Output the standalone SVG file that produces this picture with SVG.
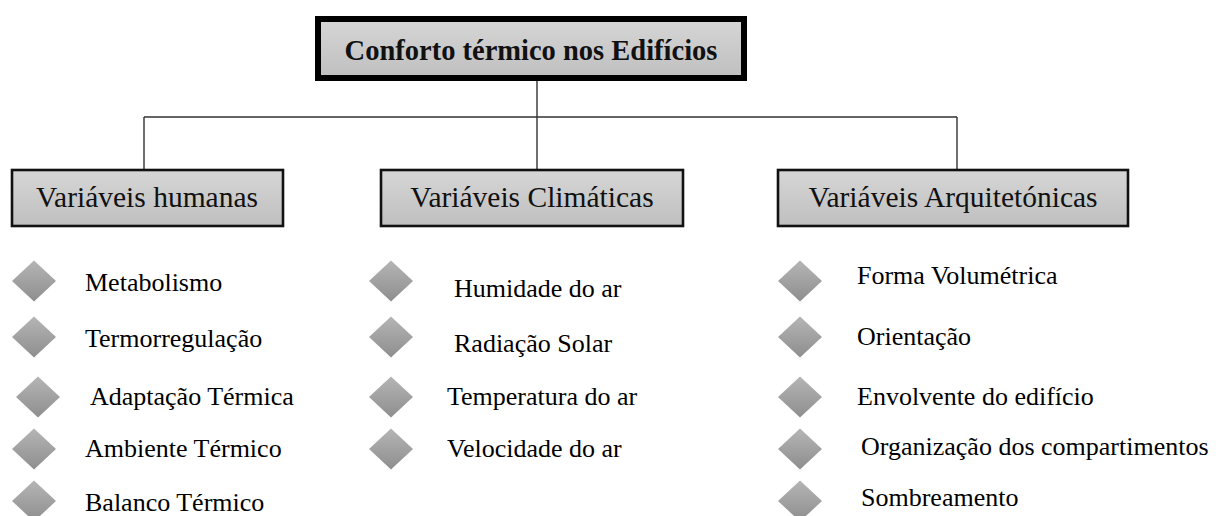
<svg xmlns="http://www.w3.org/2000/svg" width="1218" height="516" viewBox="0 0 1218 516">
<defs>
<linearGradient id="boxg" x1="0" y1="0" x2="0" y2="1">
<stop offset="0" stop-color="#d6d6d6"/>
<stop offset="1" stop-color="#bfbfbf"/>
</linearGradient>
<linearGradient id="dg" x1="0" y1="0" x2="0" y2="1">
<stop offset="0" stop-color="#b5b5b5"/>
<stop offset="1" stop-color="#8e8e8e"/>
</linearGradient>
<path id="dia" d="M0,-20.5 L22,0 L0,20.5 L-22,0 Z" fill="url(#dg)"/>
</defs>
<style>
.title{font-family:"Liberation Serif","Times New Roman",serif;font-weight:bold;font-size:28.5px;fill:#111;text-anchor:middle}
.hdr{font-family:"Liberation Serif","Times New Roman",serif;font-size:29.5px;fill:#111;text-anchor:middle}
.item{font-family:"Liberation Serif","Times New Roman",serif;font-size:26px;fill:#000}
.hbox{fill:url(#boxg);stroke:#111;stroke-width:2.6}
.conn{stroke:#333;stroke-width:1.4;fill:none}
</style>
<rect width="1218" height="516" fill="#fff"/>
<g id="connectors">
<path class="conn" d="M537,81 V117 M144,117 H957 M144,117 V169 M537,117 V169 M957,117 V169"/>
</g>
<g id="title">
<rect x="318" y="19" width="426" height="59" fill="url(#boxg)" stroke="#000" stroke-width="6"/>
<text class="title" x="531" y="60">Conforto térmico nos Edifícios</text>
</g>
<g id="hdr-humanas">
<rect class="hbox" x="12" y="170" width="271" height="56"/>
<text class="hdr" x="147" y="207">Variáveis humanas</text>
</g>
<g id="hdr-climaticas">
<rect class="hbox" x="381" y="170" width="302" height="56"/>
<text class="hdr" x="532" y="207">Variáveis Climáticas</text>
</g>
<g id="hdr-arquitetonicas">
<rect class="hbox" x="778" y="170" width="350" height="56"/>
<text class="hdr" x="953" y="207">Variáveis Arquitetónicas</text>
</g>
<g id="items-humanas">
<use href="#dia" x="34" y="281"/><text class="item" x="85" y="291">Metabolismo</text>
<use href="#dia" x="34" y="337"/><text class="item" x="85" y="347">Termorregulação</text>
<use href="#dia" x="38" y="397"/><text class="item" x="90" y="405">Adaptação Térmica</text>
<use href="#dia" x="34" y="449"/><text class="item" x="85" y="457">Ambiente Térmico</text>
<use href="#dia" x="34" y="501"/><text class="item" x="85" y="511">Balanco Térmico</text>
</g>
<g id="items-climaticas">
<use href="#dia" x="391" y="281"/><text class="item" x="454" y="297">Humidade do ar</text>
<use href="#dia" x="391" y="337"/><text class="item" x="454" y="352">Radiação Solar</text>
<use href="#dia" x="391" y="397"/><text class="item" x="447" y="405">Temperatura do ar</text>
<use href="#dia" x="391" y="449"/><text class="item" x="447" y="457">Velocidade do ar</text>
</g>
<g id="items-arquitetonicas">
<use href="#dia" x="800" y="281"/><text class="item" x="857" y="284">Forma Volumétrica</text>
<use href="#dia" x="800" y="337"/><text class="item" x="857" y="345">Orientação</text>
<use href="#dia" x="800" y="397"/><text class="item" x="857" y="405">Envolvente do edifício</text>
<use href="#dia" x="800" y="449"/><text class="item" x="861" y="455">Organização dos compartimentos</text>
<use href="#dia" x="800" y="501"/><text class="item" x="861" y="506">Sombreamento</text>
</g>
</svg>
